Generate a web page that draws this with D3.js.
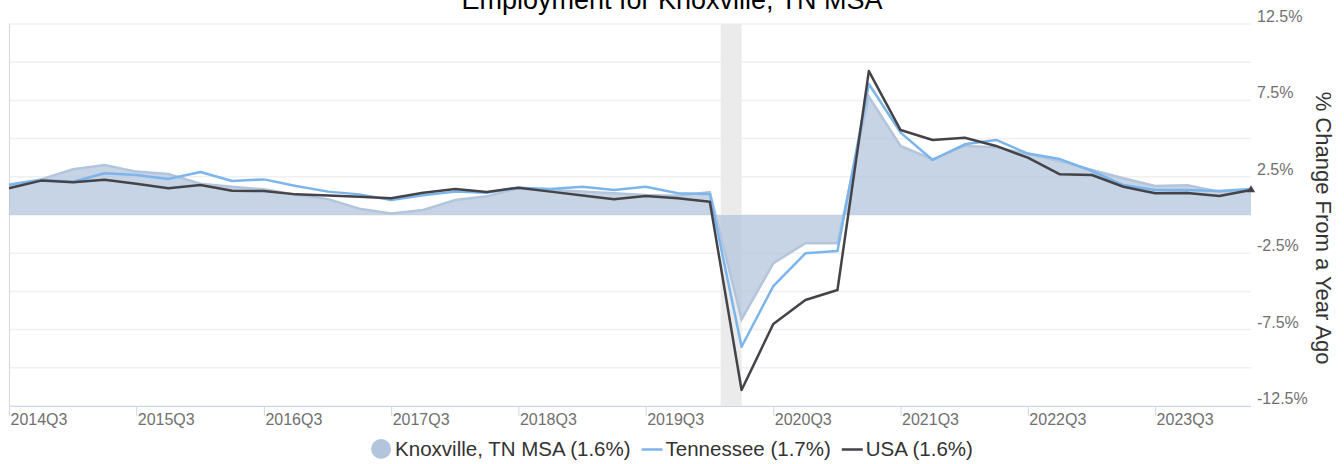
<!DOCTYPE html>
<html>
<head>
<meta charset="utf-8">
<script src="https://cdn.jsdelivr.net/npm/d3@7"></script>
<style>
  body { margin: 0; background: #fff; }
  text { font-family: 'Liberation Sans', Arial, sans-serif; }
</style>
</head>
<body>
<div id="chart"></div>
<script>
var width = 1344, height = 464;
var plotLeft = 9, plotRight = 1251, plotTop = 24, plotBottom = 406;

// quarters 2014Q3 .. 2024Q2
var quarters = ['2014Q3', '2014Q4', '2015Q1', '2015Q2', '2015Q3', '2015Q4', '2016Q1', '2016Q2',
  '2016Q3', '2016Q4', '2017Q1', '2017Q2', '2017Q3', '2017Q4', '2018Q1', '2018Q2',
  '2018Q3', '2018Q4', '2019Q1', '2019Q2', '2019Q3', '2019Q4', '2020Q1', '2020Q2',
  '2020Q3', '2020Q4', '2021Q1', '2021Q2', '2021Q3', '2021Q4', '2022Q1', '2022Q2',
  '2022Q3', '2022Q4', '2023Q1', '2023Q2', '2023Q3', '2023Q4', '2024Q1', '2024Q2'];

var knoxville = [2.0, 2.33, 2.99, 3.27, 2.84, 2.68, 2.05, 1.85, 1.68, 1.33, 1.04, 0.41,
  0.1, 0.33, 0.98, 1.22, 1.75, 1.64, 1.53, 1.42, 1.31, 1.26, 1.5, -6.83,
  -3.16, -1.85, -1.85, 7.74, 4.52, 3.64, 4.52, 4.43, 3.99, 3.53, 2.95, 2.4,
  1.9, 1.94, 1.53, 1.64];

var tennessee = [1.96, 2.29, 2.18, 2.73, 2.62, 2.36, 2.81, 2.23, 2.33, 1.9, 1.53, 1.35,
  0.98, 1.29, 1.53, 1.46, 1.79, 1.7, 1.85, 1.64, 1.85, 1.42, 1.37, -8.62,
  -4.65, -2.51, -2.36, 8.57, 5.39, 3.6, 4.63, 4.91, 4.02, 3.66, 2.88, 1.96,
  1.64, 1.64, 1.57, 1.7];

var usa = [1.75, 2.25, 2.14, 2.31, 2.05, 1.75, 1.96, 1.59, 1.57, 1.35, 1.27, 1.2,
  1.09, 1.46, 1.7, 1.5, 1.79, 1.53, 1.27, 1.03, 1.24, 1.09, 0.87, -11.45,
  -7.13, -5.56, -4.91, 9.42, 5.56, 4.91, 5.06, 4.52, 3.75, 2.66, 2.62, 1.85,
  1.42, 1.44, 1.24, 1.64];

var xTickLabels = ['2014Q3', '2015Q3', '2016Q3', '2017Q3', '2018Q3', '2019Q3', '2020Q3', '2021Q3', '2022Q3', '2023Q3'];
var gridValues = [-12.5, -10, -7.5, -5, -2.5, 0, 2.5, 5, 7.5, 10, 12.5];
var yTickLabels = [-12.5, -7.5, -2.5, 2.5, 7.5, 12.5];
var recession = ['2020-02-01', '2020-04-01'];

var legendItems = [
  { name: 'Knoxville, TN MSA (1.6%)', type: 'area' },
  { name: 'Tennessee (1.7%)', type: 'line', color: '#7cb5ec' },
  { name: 'USA (1.6%)', type: 'line', color: '#434348' }
];

function qDate(s) {
  return new Date(+s.slice(0, 4), (+s.slice(5) - 1) * 3, 1);
}

var dates = quarters.map(qDate);

var svg = d3.select('#chart')
  .append('svg')
  .attr('width', width)
  .attr('height', height);

var xScale = d3.scaleTime()
  .domain([dates[0], dates[dates.length - 1]])
  .range([plotLeft, plotRight]);

var yScale = d3.scaleLinear()
  .domain([-12.5, 12.5])
  .range([plotBottom, plotTop]);

// gridlines
svg.append('g')
  .selectAll('line')
  .data(gridValues)
  .enter()
  .append('line')
  .attr('x1', plotLeft)
  .attr('x2', plotRight)
  .attr('y1', function (d) { return yScale(d); })
  .attr('y2', function (d) { return yScale(d); })
  .attr('stroke', '#f0f0f0')
  .attr('stroke-width', 1.5);

// recession band
svg.append('rect')
  .attr('x', xScale(new Date(recession[0] + 'T00:00')))
  .attr('y', plotTop)
  .attr('width', xScale(new Date(recession[1] + 'T00:00')) - xScale(new Date(recession[0] + 'T00:00')))
  .attr('height', plotBottom - plotTop)
  .attr('fill', '#ebebeb');

// left border
svg.append('line')
  .attr('x1', plotLeft + 0.5)
  .attr('x2', plotLeft + 0.5)
  .attr('y1', plotTop)
  .attr('y2', plotBottom)
  .attr('stroke', '#d6d6d6');

var area = d3.area()
  .x(function (d, i) { return xScale(dates[i]); })
  .y0(yScale(0))
  .y1(function (d) { return yScale(d); });

var line = d3.line()
  .x(function (d, i) { return xScale(dates[i]); })
  .y(function (d) { return yScale(d); });

svg.append('path')
  .datum(knoxville)
  .attr('d', area)
  .attr('fill', '#b3c5dc')
  .attr('fill-opacity', 0.75);

svg.append('path')
  .datum(knoxville)
  .attr('d', line)
  .attr('fill', 'none')
  .attr('stroke', '#b3c5dc')
  .attr('stroke-width', 2.5);

svg.append('path')
  .datum(tennessee)
  .attr('d', line)
  .attr('fill', 'none')
  .attr('stroke', '#7cb5ec')
  .attr('stroke-width', 2.5)
  .attr('stroke-linejoin', 'round');

svg.append('path')
  .datum(usa)
  .attr('d', line)
  .attr('fill', 'none')
  .attr('stroke', '#434348')
  .attr('stroke-width', 2.5)
  .attr('stroke-linejoin', 'round');

// end marker on the USA series
svg.append('path')
  .attr('d', d3.symbol().type(d3.symbolTriangle).size(30))
  .attr('transform', 'translate(' + xScale(dates[dates.length - 1]) + ',' + yScale(usa[usa.length - 1]) + ')')
  .attr('fill', '#434348');

// x axis
var xAxis = d3.axisBottom(xScale)
  .tickValues(xTickLabels.map(qDate))
  .tickSize(10)
  .tickFormat(function (d, i) { return xTickLabels[i]; });

var xAxisG = svg.append('g')
  .attr('transform', 'translate(0,' + plotBottom + ')')
  .call(xAxis);

xAxisG.select('.domain')
  .attr('stroke', '#ccd6eb')
  .attr('d', 'M' + plotLeft + ',0.5H' + plotRight);
xAxisG.selectAll('.tick line').attr('stroke', '#ccd6eb');
xAxisG.selectAll('.tick text')
  .attr('text-anchor', 'start')
  .attr('x', 1)
  .attr('y', 19)
  .attr('dy', 0)
  .attr('fill', '#707070')
  .style('font-size', '16px')
  .style('font-family', "'Liberation Sans', Arial, sans-serif");

// y axis labels (right)
svg.append('g')
  .selectAll('text')
  .data(yTickLabels)
  .enter()
  .append('text')
  .attr('x', 1257)
  .attr('y', function (d) { return yScale(d) - 2; })
  .attr('fill', '#707070')
  .style('font-size', '16px')
  .text(function (d) { return d + '%'; });

svg.append('text')
  .attr('transform', 'translate(1316,228) rotate(90)')
  .attr('text-anchor', 'middle')
  .attr('fill', '#333333')
  .style('font-size', '22px')
  .text('% Change From a Year Ago');

// title
svg.append('text')
  .attr('x', width / 2)
  .attr('y', 9)
  .attr('text-anchor', 'middle')
  .attr('fill', '#000')
  .style('font-size', '27px')
  .text('Employment for Knoxville, TN MSA');

// legend
var legend = svg.append('g');
var lx = 0;
legendItems.forEach(function (item, i) {
  var g = legend.append('g').attr('transform', 'translate(' + lx + ',0)');
  if (item.type === 'area') {
    g.append('circle').attr('cx', 10).attr('cy', 0).attr('r', 10).attr('fill', '#b3c5dc');
  } else {
    g.append('line').attr('x1', 0).attr('x2', 21).attr('y1', 0.5).attr('y2', 0.5)
      .attr('stroke', item.color).attr('stroke-width', 2.5);
  }
  var t = g.append('text')
    .attr('x', 24)
    .attr('y', 7)
    .attr('fill', '#333333')
    .style('font-size', '20.5px')
    .text(item.name);
  lx += 24 + t.node().getComputedTextLength() + 11;
});
legend.attr('transform', 'translate(' + (width / 2 - (lx - 11) / 2) + ',449)');
</script>
</body>
</html>
